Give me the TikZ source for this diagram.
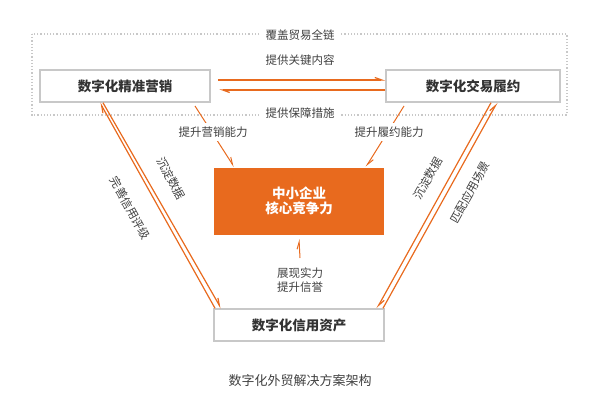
\documentclass[tikz,border=0pt]{standalone}
\usepackage{fontspec}
\setmainfont{Noto Sans CJK SC}
\usetikzlibrary{arrows.meta}
\definecolor{tradeorange}{RGB}{232, 106, 30}
\definecolor{boxgray}{RGB}{200, 200, 200}

\begin{document}
\begin{tikzpicture}[x=1pt,y=-1pt,
    box/.style={draw=boxgray,line width=1.5pt,fill=white,minimum width=170pt,minimum height=32pt,font=\fontsize{13.5}{15}\selectfont\bfseries,text=black!80},
    lbl/.style={font=\fontsize{11.5}{14}\selectfont,text=black!75},
    harp/.style={draw=tradeorange,line width=1.2pt,-{Straight Barb[left,length=7pt,width=5pt]}}]
        \useasboundingbox (0,0) rectangle (600,412);

        \draw[boxgray,dotted,line width=1.2pt] (32,34) rectangle (567,115);
        \node[lbl,fill=white,inner xsep=6pt] (cover) at (300,35) {覆盖贸易全链};

        \node[box] (market) at (125,86) {数字化精准营销};
        \node[box,minimum width=174pt] (deal) at (473,86) {数字化交易履约};
        \node[box,fill=tradeorange,draw=none,minimum width=170pt,minimum height=67pt,text=white,align=center] (core) at (299,201) {中小企业\\核心竞争力};
        \node[box] (credit) at (299,325) {数字化信用资产};
        \node[lbl] (caption) at (300,381) {\fontsize{13}{15}\selectfont 数字化外贸解决方案架构};

        \coordinate (m1) at (195,106);
        \coordinate (d1) at (404,106);
        \coordinate (c1) at (300,258);

        % top links
        \draw[harp] ([yshift=6pt]market.east) ++(7,0) -- ([yshift=6pt]deal.west);
        \draw[harp] ([yshift=-4pt]deal.west) -- ++(-166,0);
        \node[lbl] (keyc) at (300,60) {提供关键内容};
        \node[lbl,fill=white,inner xsep=6pt] (guard) at (300,113) {提供保障措施};

        % towards the core
        \draw[harp,line width=1pt] (m1) -- ([xshift=-65pt]core.north);
        \draw[harp,line width=1pt] (d1) -- ([xshift=67pt]core.north);
        \node[lbl,fill=white] (upm) at (213,132) {提升营销能力};
        \node[lbl,fill=white] (upd) at (389,132) {提升履约能力};
        \draw[harp,line width=1pt] (c1) -- ([yshift=-4pt]core.south);
        \node[lbl,align=center,text height=9pt] (show) at (300,287) {展现实力\\提升信誉};

        % side links
        \draw[harp] ([xshift=-84pt]credit.north) -- ([xshift=-25pt]market.south);
        \draw[harp] ([xshift=-22pt]market.south) -- ([xshift=-78pt]credit.north);
        \draw[harp] ([xshift=18pt]deal.south) -- ([xshift=78pt]credit.north);
        \draw[harp] ([xshift=84pt]credit.north) -- ([xshift=24pt]deal.south);
        \node[lbl,rotate=-61] (dataL) at (171,178) {沉淀数据};
        \node[lbl,rotate=-61] (rateL) at (130,208) {完善信用评级};
        \node[lbl,rotate=61] (dataR) at (428,178) {沉淀数据};
        \node[lbl,rotate=61] (sceneR) at (470,192) {匹配应用场景};
\end{tikzpicture}
\end{document}
